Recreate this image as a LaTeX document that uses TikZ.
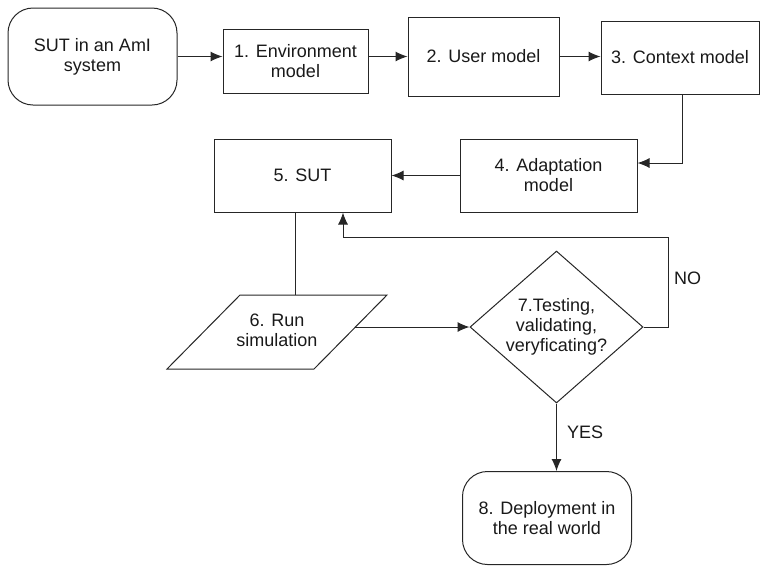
\documentclass[tikz,border=0pt]{standalone}
\usepackage{fontspec}
\setmainfont{Liberation Sans}
\usetikzlibrary{arrows.meta,shapes.geometric}

\begin{document}
\begin{tikzpicture}[x=1pt, y=-1pt, >={Latex[length=12pt,width=10pt]},
    every node/.style={font=\fontsize{18}{20}\selectfont, align=center, text=black!90},
    box/.style={draw=black!85, line width=1pt, inner sep=0},
    startstop/.style={box, rounded corners=25pt},
    flow/.style={draw=black!85, line width=1pt},
    lbl/.style={anchor=west, inner sep=0}]
    \useasboundingbox (0,0) rectangle (760,566);
    \node[startstop, minimum width=169pt, minimum height=97pt] (ami) at (92.5,56.5) {SUT in an AmI\\system};
    \node[box, minimum width=145pt, minimum height=64pt] (env) at (295.5,61) {1. Environment\\model};
    \node[box, minimum width=151pt, minimum height=79pt] (user) at (483.5,56.5) {2. User model};
    \node[box, minimum width=158pt, minimum height=73pt] (ctx) at (680,57.5) {3. Context model};
    \node[box, minimum width=177pt, minimum height=73pt] (adapt) at (548.5,175.5) {4. Adaptation\\model};
    \node[box, minimum width=177pt, minimum height=73pt] (sut) at (302.5,175.5) {5. SUT};
    \draw[flow] (167,369) -- (240,295) -- (387,295) -- (314,369) -- cycle;
    \node (run) at (277,330.5) {6. Run\\simulation};
    \coordinate (runtop) at (295,295);
    \coordinate (runright) at (355,327);
    \node[box, diamond, aspect=1.14, minimum width=173pt, minimum height=152pt] (dec) at (556.5,327)
        {7.Testing,\\validating,\\veryficating?};
    \node[startstop, minimum width=169pt, minimum height=93pt] (deploy) at (547,518) {8. Deployment in\\the real world};
    \coordinate (back) at (668,237);

    \draw[flow, ->] (ami.east) -- (ami.east -| env.west);
    \draw[flow, ->] (user.west -| env.east) -- (user.west);
    \draw[flow, ->] (user.east) -- (user.east -| ctx.west);
    \draw[flow, ->] ([xshift=2pt]ctx.south) |- ([yshift=12.5pt]adapt.east);
    \draw[flow, ->] (adapt.west) -- (sut.east);
    \draw[flow] ([xshift=-7.5pt]sut.south) -- (runtop);
    \draw[flow, ->] (runright) -- (dec.west);
    \draw[flow, ->] (dec.east) -| (back) -| ([xshift=40.5pt]sut.south);
    \draw[flow, ->] (dec.south) -- (dec.south |- deploy.north);
    \node[lbl] (no) at (674,278) {NO};
    \node[lbl] (yes) at (567,432) {YES};
\end{tikzpicture}
\end{document}
